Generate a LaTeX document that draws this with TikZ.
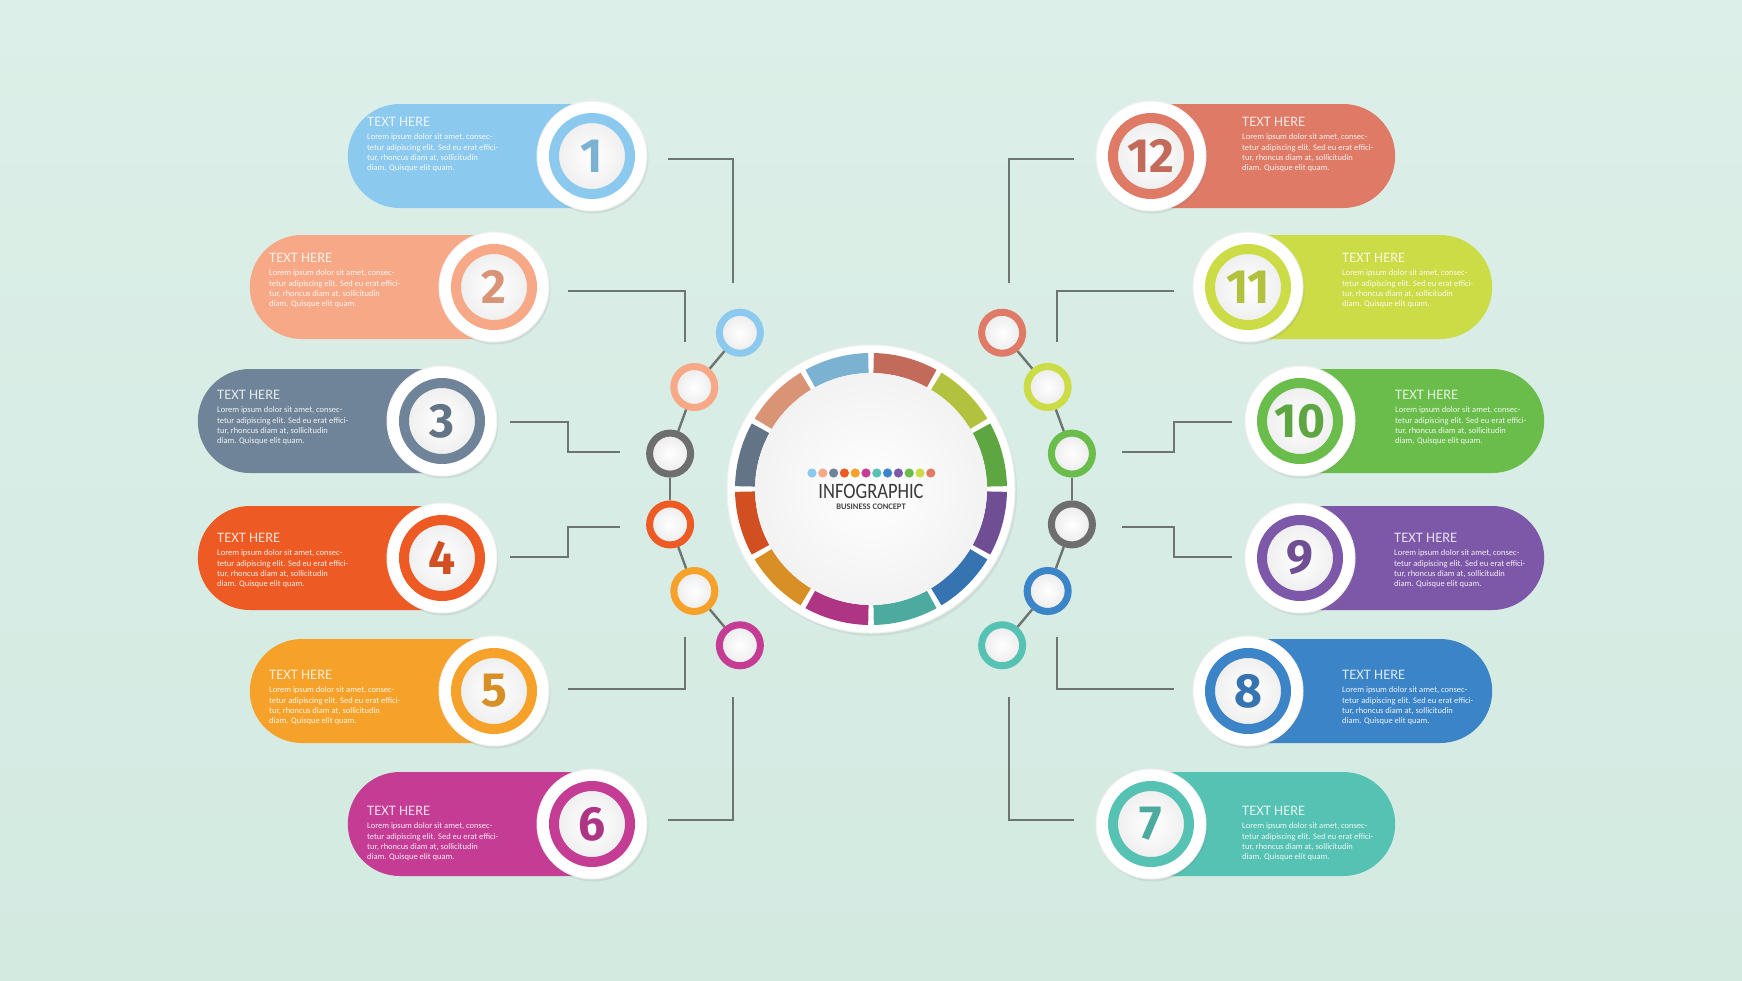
\documentclass[tikz,border=0pt]{standalone}
\usepackage{fontspec}
\setmainfont{Carlito}
\newfontfamily\numfont{Fira Sans}
\usetikzlibrary{positioning,calc,shapes.misc,shadows}

\definecolor{c1}{HTML}{8CC9EE}
\definecolor{c2}{HTML}{F7A886}
\definecolor{c3}{HTML}{6F8498}
\definecolor{c4}{HTML}{EE5A24}
\definecolor{c5}{HTML}{F6A22A}
\definecolor{c6}{HTML}{C53C95}
\definecolor{c7}{HTML}{56C2B3}
\definecolor{c8}{HTML}{3C84C8}
\definecolor{c9}{HTML}{7E58A8}
\definecolor{c10}{HTML}{6ABD4A}
\definecolor{c11}{HTML}{CBDC46}
\definecolor{c12}{HTML}{DE7A66}
\definecolor{dotgray}{HTML}{6E6E6E}
\definecolor{linkgray}{HTML}{6E7571}
\definecolor{bgtop}{HTML}{DCEFE8}
\definecolor{bgbot}{HTML}{D3EAE1}

\newcommand{\lorem}{Lorem ipsum dolor sit amet, consec-\\tetur adipiscing elit. Sed eu erat effici-\\tur, rhoncus diam at, sollicitudin\\diam. Quisque elit quam.}

\begin{document}
\begin{tikzpicture}[
  x=1pt, y=-1pt,
  pill/.style={rounded rectangle, fill=#1, minimum width=244pt, minimum height=104pt, inner sep=0pt},
  lpill/.style={pill=#1, rounded rectangle east arc=none, anchor=east},
  rpill/.style={pill=#1, rounded rectangle west arc=none, anchor=west},
  badge/.style={circle, fill=white, draw=black!6, line width=1pt, minimum size=110pt, inner sep=0pt, drop shadow={opacity=0.15, shadow xshift=1.5pt, shadow yshift=-2.5pt}},
  ring/.style={circle, draw=#1, line width=10pt, inner color=white, outer color=black!7, minimum size=76pt, inner sep=0pt, text=#1!88!black, font=\numfont\bfseries\fontsize{48}{48}\selectfont},
  dot/.style={circle, draw=#1, line width=7pt, inner color=white, outer color=black!8, minimum size=41pt, inner sep=0pt},
  head/.style={anchor=north west, inner sep=0pt, text=white!80!#1, font=\fontsize{14.5}{15}\selectfont},
  body/.style={align=left, inner sep=0pt, text=white!90!#1, font=\fontsize{8.5}{10.3}\selectfont},
  hubbase/.style={circle, fill=white, draw=black!6, line width=1pt, minimum size=288pt, inner sep=0pt, drop shadow={opacity=0.12, shadow xshift=2pt, shadow yshift=-3pt}},
  hubdisc/.style={circle, inner color=white, outer color=black!5, minimum size=232pt, inner sep=0pt},
  link/.style={draw=linkgray, line width=2.8pt},
  chainline/.style={draw=linkgray, line width=2.4pt}
  ]
  \useasboundingbox (0,0) rectangle (1742,980);
  \fill[top color=bgtop, bottom color=bgbot] (0,0) rectangle (1742,980);

  % elbow links, left side
  \coordinate (s1) at (668,159);  \coordinate (t1) at (733,283);
  \coordinate (s2) at (568,291);  \coordinate (t2) at (685,342);
  \coordinate (s3) at (510,422);  \coordinate (t3) at (620,452);
  \coordinate (s4) at (510,557);  \coordinate (t4) at (620,527);
  \coordinate (s5) at (568,689);  \coordinate (t5) at (685,637);
  \coordinate (s6) at (668,820);  \coordinate (t6) at (733,697);
  \draw[link] (s1) -| (t1);
  \draw[link] (s2) -| (t2);
  \draw[link] (s3) -- ++(58,0) |- (t3);
  \draw[link] (s4) -- ++(58,0) |- (t4);
  \draw[link] (s5) -| (t5);
  \draw[link] (s6) -| (t6);
  % elbow links, right side
  \coordinate (s12) at (1074,159); \coordinate (t12) at (1009,283);
  \coordinate (s11) at (1174,291); \coordinate (t11) at (1057,342);
  \coordinate (s10) at (1232,422); \coordinate (t10) at (1122,452);
  \coordinate (s9) at (1232,557);  \coordinate (t9) at (1122,527);
  \coordinate (s8) at (1174,689);  \coordinate (t8) at (1057,637);
  \coordinate (s7) at (1074,820);  \coordinate (t7) at (1009,697);
  \draw[link] (s12) -| (t12);
  \draw[link] (s11) -| (t11);
  \draw[link] (s10) -- ++(-58,0) |- (t10);
  \draw[link] (s9) -- ++(-58,0) |- (t9);
  \draw[link] (s8) -| (t8);
  \draw[link] (s7) -| (t7);

  % left items
  \node[lpill=c1] (p1) at (592,156) {};
  \node[lpill=c2] (p2) at (494,287) {};
  \node[lpill=c3] (p3) at (442,421) {};
  \node[lpill=c4] (p4) at (442,558) {};
  \node[lpill=c5] (p5) at (494,691) {};
  \node[lpill=c6] (p6) at (592,824) {};
  \node[badge] (b1) at (592,156) {};
  \node[badge] (b2) at (494,287) {};
  \node[badge] (b3) at (442,421) {};
  \node[badge] (b4) at (442,558) {};
  \node[badge] (b5) at (494,691) {};
  \node[badge] (b6) at (592,824) {};
  \node[ring=c1] (n1) at (b1) {1};
  \node[ring=c2] (n2) at (b2) {2};
  \node[ring=c3] (n3) at (b3) {3};
  \node[ring=c4] (n4) at (b4) {4};
  \node[ring=c5] (n5) at (b5) {5};
  \node[ring=c6] (n6) at (b6) {6};
  \node[head=c1] (h1) at (367,117) {TEXT HERE};
  \node[head=c2] (h2) at (269,253) {TEXT HERE};
  \node[head=c3] (h3) at (217,390) {TEXT HERE};
  \node[head=c4] (h4) at (217,533) {TEXT HERE};
  \node[head=c5] (h5) at (269,670) {TEXT HERE};
  \node[head=c6] (h6) at (367,806) {TEXT HERE};
  \node[body=c1, below right=7pt and 0pt of h1.south west] (l1) {\lorem};
  \node[body=c2, below right=7pt and 0pt of h2.south west] (l2) {\lorem};
  \node[body=c3, below right=7pt and 0pt of h3.south west] (l3) {\lorem};
  \node[body=c4, below right=7pt and 0pt of h4.south west] (l4) {\lorem};
  \node[body=c5, below right=7pt and 0pt of h5.south west] (l5) {\lorem};
  \node[body=c6, below right=7pt and 0pt of h6.south west] (l6) {\lorem};

  % right items
  \node[rpill=c12] (p12) at (1151,156) {};
  \node[rpill=c11] (p11) at (1248,287) {};
  \node[rpill=c10] (p10) at (1300,421) {};
  \node[rpill=c9] (p9) at (1300,558) {};
  \node[rpill=c8] (p8) at (1248,691) {};
  \node[rpill=c7] (p7) at (1151,824) {};
  \node[badge] (b12) at (1151,156) {};
  \node[badge] (b11) at (1248,287) {};
  \node[badge] (b10) at (1300,421) {};
  \node[badge] (b9) at (1300,558) {};
  \node[badge] (b8) at (1248,691) {};
  \node[badge] (b7) at (1151,824) {};
  \node[ring=c12] (n12) at (b12) {12};
  \node[ring=c11] (n11) at (b11) {11};
  \node[ring=c10] (n10) at (b10) {10};
  \node[ring=c9] (n9) at (b9) {9};
  \node[ring=c8] (n8) at (b8) {8};
  \node[ring=c7] (n7) at (b7) {7};
  \node[head=c12] (h12) at (1242,117) {TEXT HERE};
  \node[head=c11] (h11) at (1342,253) {TEXT HERE};
  \node[head=c10] (h10) at (1395,390) {TEXT HERE};
  \node[head=c9] (h9) at (1394,533) {TEXT HERE};
  \node[head=c8] (h8) at (1342,670) {TEXT HERE};
  \node[head=c7] (h7) at (1242,806) {TEXT HERE};
  \node[body=c12, below right=7pt and 0pt of h12.south west] (l12) {\lorem};
  \node[body=c11, below right=7pt and 0pt of h11.south west] (l11) {\lorem};
  \node[body=c10, below right=7pt and 0pt of h10.south west] (l10) {\lorem};
  \node[body=c9, below right=7pt and 0pt of h9.south west] (l9) {\lorem};
  \node[body=c8, below right=7pt and 0pt of h8.south west] (l8) {\lorem};
  \node[body=c7, below right=7pt and 0pt of h7.south west] (l7) {\lorem};

  % hub
  \node[hubbase] (hub) at (871,489) {};
  \foreach \c [count=\i] in {c1,c2,c3,c4,c5,c6,c7,c8,c9,c10,c11,c12}
    \fill[\c!88!black] ($(hub)+({61.2+30*\i}:136pt)$) arc[start angle={61.2+30*\i}, end angle={88.8+30*\i}, radius=136pt]
      -- ($(hub)+({88.8+30*\i}:116pt)$) arc[start angle={88.8+30*\i}, end angle={61.2+30*\i}, radius=116pt] -- cycle;
  \node[hubdisc] (disc) at (hub) {};
  \foreach \c [count=\i] in {c1,c2,c3,c4,c5,c6,c7,c8,c9,c10,c11,c12}
    \fill[\c] ({801.2+10.8*\i},473) circle (4.6pt);
  \node[inner sep=0pt, text=black!78, font=\fontsize{22}{22}\selectfont] (title) at (871,491) {\scalebox{0.84}[1]{INFOGRAPHIC}};
  \node[inner sep=0pt, text=black!72, font=\bfseries\fontsize{8.5}{9}\selectfont] (subtitle) at (871,507) {BUSINESS CONCEPT};

  % small dots round the hub
  \node[dot=c1] (d1) at ($(hub)+(130:204pt)$) {};
  \node[dot=c2] (d2) at ($(hub)+(150:204pt)$) {};
  \node[dot=dotgray] (d3) at ($(hub)+(170:204pt)$) {};
  \node[dot=c4] (d4) at ($(hub)+(190:204pt)$) {};
  \node[dot=c5] (d5) at ($(hub)+(210:204pt)$) {};
  \node[dot=c6] (d6) at ($(hub)+(230:204pt)$) {};
  \node[dot=c12] (d12) at ($(hub)+(50:204pt)$) {};
  \node[dot=c11] (d11) at ($(hub)+(30:204pt)$) {};
  \node[dot=c10] (d10) at ($(hub)+(10:204pt)$) {};
  \node[dot=dotgray] (d9) at ($(hub)+(-10:204pt)$) {};
  \node[dot=c8] (d8) at ($(hub)+(-30:204pt)$) {};
  \node[dot=c7] (d7) at ($(hub)+(-50:204pt)$) {};
  \draw[chainline] (d1) -- (d2);
  \draw[chainline] (d2) -- (d3);
  \draw[chainline] (d3) -- (d4);
  \draw[chainline] (d4) -- (d5);
  \draw[chainline] (d5) -- (d6);
  \draw[chainline] (d12) -- (d11);
  \draw[chainline] (d11) -- (d10);
  \draw[chainline] (d10) -- (d9);
  \draw[chainline] (d9) -- (d8);
  \draw[chainline] (d8) -- (d7);
\end{tikzpicture}
\end{document}
